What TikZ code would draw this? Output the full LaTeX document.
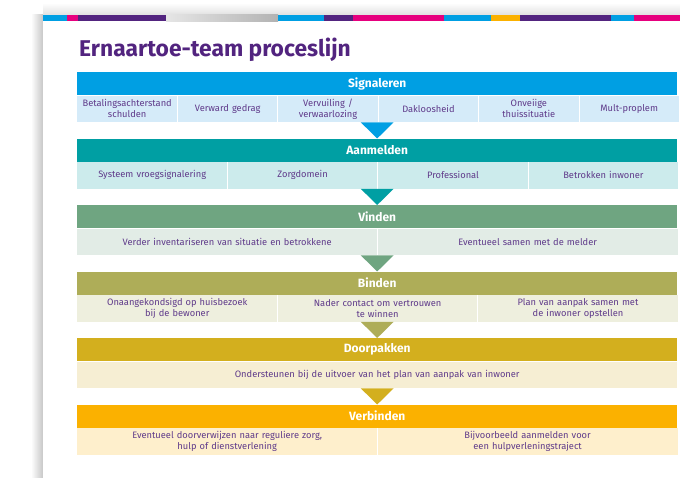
\documentclass[tikz,border=0pt]{standalone}
\usepackage{fontspec}
\setmainfont{Fira Sans}
\usetikzlibrary{positioning}
\definecolor{sigblue}{HTML}{009FE3}
\definecolor{siglight}{HTML}{D5EBF9}
\definecolor{aanteal}{HTML}{009FA3}
\definecolor{aanlight}{HTML}{CCEBEC}
\definecolor{vingreen}{HTML}{6FA581}
\definecolor{vinlight}{HTML}{E2ECE6}
\definecolor{binolive}{HTML}{AEAD58}
\definecolor{binlight}{HTML}{EEEFDE}
\definecolor{doormustard}{HTML}{D3AF1E}
\definecolor{doorlight}{HTML}{F6EED3}
\definecolor{verborange}{HTML}{FBB100}
\definecolor{verblight}{HTML}{FEEFCC}
\definecolor{titlepurple}{HTML}{52247F}
\definecolor{textpurple}{HTML}{5F3A8A}
\definecolor{stripmagenta}{HTML}{E6007E}
\tikzstyle{divider} = [draw=white, line width=0.8pt]

\begin{document}
\begin{tikzpicture}[x=1pt, y=-1pt, header/.style={rectangle, minimum width=600pt, minimum height=23pt, inner sep=0pt, text=white, font=\bfseries\fontsize{12}{14}\selectfont}, cell/.style={rectangle, minimum height=26.5pt, inner sep=0pt, text=textpurple, align=center, font=\fontsize{9.3}{11}\selectfont}]
        \useasboundingbox (0,0) rectangle (680,478);
        % card with shadow
        \shade[left color=white, right color=black!22] (31,15) rectangle (43,478);
        \shade[top color=white, bottom color=black!12] (43,3) rectangle (680,15);
        \fill[white] (43,15) rectangle (680,478);
        % colour strip
        \fill[sigblue] (43,15) rectangle (67,21.5);
        \fill[stripmagenta] (67,15) rectangle (78,21.5);
        \fill[titlepurple] (78,15) rectangle (166,21.5);
        \shade[left color=black!10, right color=black!30] (166,15) rectangle (278,21.5);
        \fill[sigblue] (278,15) rectangle (324,21.5);
        \fill[titlepurple] (324,15) rectangle (353,21.5);
        \fill[stripmagenta] (353,15) rectangle (444,21.5);
        \fill[sigblue] (444,15) rectangle (491,21.5);
        \fill[verborange] (491,15) rectangle (520,21.5);
        \fill[titlepurple] (520,15) rectangle (611,21.5);
        \fill[sigblue] (611,15) rectangle (634,21.5);
        \fill[stripmagenta] (634,15) rectangle (680,21.5);

        \node[anchor=base west, inner sep=0pt, text=titlepurple, font=\bfseries\fontsize{22.8}{26}\selectfont] (title) at (79,57) {Ernaartoe-team proceslijn};

        % Signaleren
        \node[header, fill=sigblue, anchor=north west] (Signaleren) at (77,72) {Signaleren};
        \node[cell, fill=siglight, text width=100pt, below right=0pt and 0pt of Signaleren.south west] (Betalingsachterstand) {Betalingsachterstand\\schulden};
        \node[cell, fill=siglight, text width=100pt, right=0pt of Betalingsachterstand] (VerwardGedrag) {Verward gedrag};
        \node[cell, fill=siglight, text width=100pt, right=0pt of VerwardGedrag] (Vervuiling) {Vervuiling /\\verwaarlozing};
        \node[cell, fill=siglight, text width=100pt, right=0pt of Vervuiling] (Dakloosheid) {Dakloosheid};
        \node[cell, fill=siglight, text width=100pt, right=0pt of Dakloosheid] (Thuissituatie) {Onveiige\\thuissituatie};
        \node[cell, fill=siglight, text width=100pt, right=0pt of Thuissituatie] (MultProplem) {Mult-proplem};

        % Aanmelden
        \node[header, fill=aanteal, below right=16.2pt and 0pt of Betalingsachterstand.south west] (Aanmelden) {Aanmelden};
        \node[cell, fill=aanlight, text width=150pt, below right=0pt and 0pt of Aanmelden.south west] (Vroegsignalering) {Systeem vroegsignalering};
        \node[cell, fill=aanlight, text width=150pt, right=0pt of Vroegsignalering] (Zorgdomein) {Zorgdomein};
        \node[cell, fill=aanlight, text width=150pt, right=0pt of Zorgdomein] (Professional) {Professional};
        \node[cell, fill=aanlight, text width=150pt, right=0pt of Professional] (Inwoner) {Betrokken inwoner};

        % Vinden
        \node[header, fill=vingreen, below right=16.2pt and 0pt of Vroegsignalering.south west] (Vinden) {Vinden};
        \node[cell, fill=vinlight, text width=300pt, below right=0pt and 0pt of Vinden.south west] (Inventariseren) {Verder inventariseren van situatie en betrokkene};
        \node[cell, fill=vinlight, text width=300pt, right=0pt of Inventariseren] (Melder) {Eventueel samen met de melder};

        % Binden
        \node[header, fill=binolive, below right=16.2pt and 0pt of Inventariseren.south west] (Binden) {Binden};
        \node[cell, fill=binlight, text width=200pt, below right=0pt and 0pt of Binden.south west] (Huisbezoek) {Onaangekondsigd op huisbezoek\\bij de bewoner};
        \node[cell, fill=binlight, text width=200pt, right=0pt of Huisbezoek] (Vertrouwen) {Nader contact om vertrouwen\\te winnen};
        \node[cell, fill=binlight, text width=200pt, right=0pt of Vertrouwen] (PlanAanpak) {Plan van aanpak samen met\\de inwoner opstellen};

        % Doorpakken
        \node[header, fill=doormustard, below right=16.2pt and 0pt of Huisbezoek.south west] (Doorpakken) {Doorpakken};
        \node[cell, fill=doorlight, text width=600pt, below right=0pt and 0pt of Doorpakken.south west] (Ondersteunen) {Ondersteunen bij de uitvoer van het plan van aanpak van inwoner};

        % Verbinden
        \node[header, fill=verborange, below right=16.2pt and 0pt of Ondersteunen.south west] (Verbinden) {Verbinden};
        \node[cell, fill=verblight, text width=300pt, below right=0pt and 0pt of Verbinden.south west] (Doorverwijzen) {Eventueel doorverwijzen naar reguliere zorg,\\hulp of dienstverlening};
        \node[cell, fill=verblight, text width=300pt, right=0pt of Doorverwijzen] (Traject) {Bijvoorbeeld aanmelden voor\\een hulpverleningstraject};

        % dividers
        \path [divider] (Betalingsachterstand.north east) -- (Betalingsachterstand.south east);
        \path [divider] (VerwardGedrag.north east) -- (VerwardGedrag.south east);
        \path [divider] (Vervuiling.north east) -- (Vervuiling.south east);
        \path [divider] (Dakloosheid.north east) -- (Dakloosheid.south east);
        \path [divider] (Thuissituatie.north east) -- (Thuissituatie.south east);
        \path [divider] (Vroegsignalering.north east) -- (Vroegsignalering.south east);
        \path [divider] (Zorgdomein.north east) -- (Zorgdomein.south east);
        \path [divider] (Professional.north east) -- (Professional.south east);
        \path [divider] (Inventariseren.north east) -- (Inventariseren.south east);
        \path [divider] (Huisbezoek.north east) -- (Huisbezoek.south east);
        \path [divider] (Vertrouwen.north east) -- (Vertrouwen.south east);
        \path [divider] (Doorverwijzen.north east) -- (Doorverwijzen.south east);

        % arrows between the steps
        \fill[sigblue] (Betalingsachterstand.south -| Signaleren.south) ++(-16.5pt,0) -- ++(33pt,0) -- (Aanmelden.north) -- cycle;
        \fill[aanteal] (Vroegsignalering.south -| Aanmelden.south) ++(-16.5pt,0) -- ++(33pt,0) -- (Vinden.north) -- cycle;
        \fill[vingreen] (Inventariseren.south -| Vinden.south) ++(-16.5pt,0) -- ++(33pt,0) -- (Binden.north) -- cycle;
        \fill[binolive] (Huisbezoek.south -| Binden.south) ++(-16.5pt,0) -- ++(33pt,0) -- (Doorpakken.north) -- cycle;
        \fill[doormustard] (Ondersteunen.south -| Doorpakken.south) ++(-16.5pt,0) -- ++(33pt,0) -- (Verbinden.north) -- cycle;
    \end{tikzpicture}
\end{document}
